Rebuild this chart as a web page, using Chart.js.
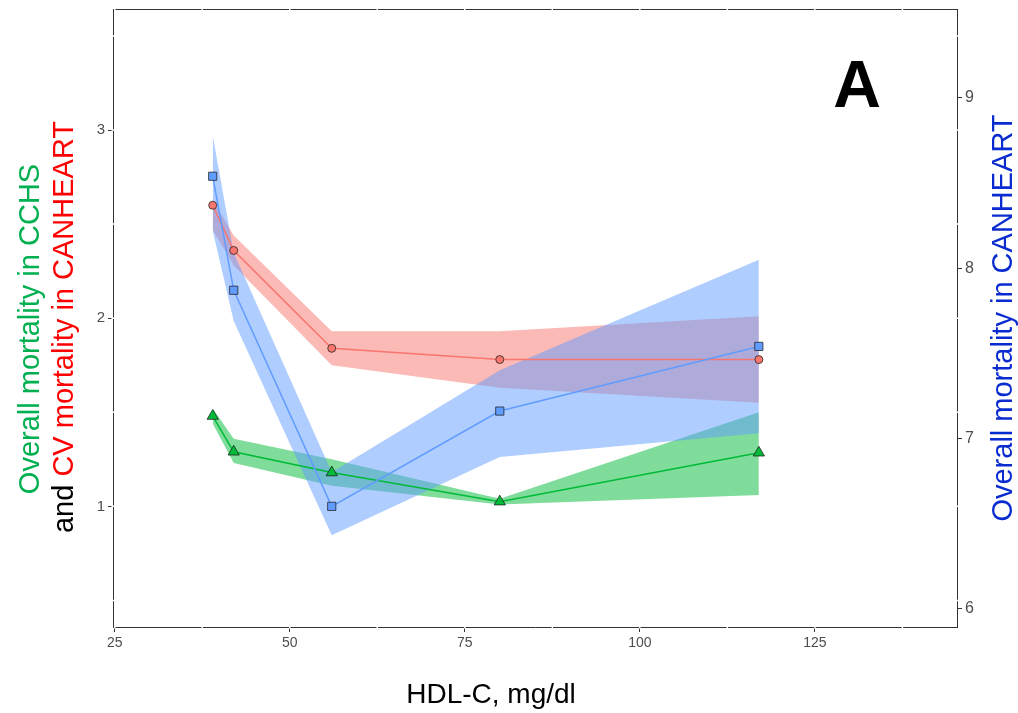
<!DOCTYPE html>
<html>
<head>
<meta charset="utf-8">
<script src="https://cdn.jsdelivr.net/npm/chart.js@4.4.1/dist/chart.umd.min.js"></script>
<style>
  html, body { margin: 0; padding: 0; background: #fff; }
  .for_chart { width: 1018px; height: 713px; position: relative; }
</style>
</head>
<body>
<div class="for_chart"><canvas id="chart"></canvas></div>
<script>
// HDL-C categories (x)
const hdl = [39, 42, 56, 80, 117];

// CV mortality in CANHEART (left axis, red)
const cvMortality = [2.60, 2.36, 1.84, 1.78, 1.78];
const cvLower = [2.47, 2.28, 1.75, 1.63, 1.55];
const cvUpper = [2.63, 2.44, 1.93, 1.93, 2.01];

// Overall mortality in CCHS (left axis, green)
const cchsMortality = [1.48, 1.29, 1.18, 1.025, 1.285];
const cchsLower = [1.44, 1.23, 1.11, 1.01, 1.06];
const cchsUpper = [1.52, 1.36, 1.25, 1.04, 1.50];

// Overall mortality in CANHEART (right axis, blue)
const canMortality = [8.54, 7.87, 6.60, 7.16, 7.54];
const canLower = [8.22, 7.69, 6.43, 6.89, 7.03];
const canUpper = [8.78, 8.09, 6.80, 7.40, 8.05];

// tick labels
const xTicks = [25, 50, 75, 100, 125];
const yTicks = [1, 2, 3];
const y2Ticks = [6, 7, 8, 9];

const FONT = "'Liberation Sans', Arial, sans-serif";
const RED = "#F8766D", BLUE = "#619CFF", GREEN = "#00BA38";

const pts = (vals) => hdl.map((x, i) => ({ x: x, y: vals[i] }));

const band = (vals, axis, fill, color, order) => ({
  data: pts(vals),
  yAxisID: axis,
  borderWidth: 0,
  pointRadius: 0,
  fill: fill,
  backgroundColor: color,
  order: order,
});

const series = (vals, axis, color, style, radius) => ({
  data: pts(vals),
  yAxisID: axis,
  borderColor: color,
  borderWidth: 1.5,
  fill: false,
  pointStyle: style,
  pointRadius: radius,
  pointBackgroundColor: color,
  pointBorderColor: "rgba(30,30,30,0.75)",
  pointBorderWidth: 1,
  order: 0,
});

// panel decorations and axis titles
const decorations = {
  id: "decorations",
  afterDraw(chart) {
    const { ctx, chartArea: a, scales } = chart;
    ctx.save();
    // top border
    ctx.strokeStyle = "#333";
    ctx.lineWidth = 1;
    ctx.beginPath();
    ctx.moveTo(a.left, a.top + 0.5);
    ctx.lineTo(a.right, a.top + 0.5);
    ctx.stroke();

    // white grid lines crossing the panel border
    ctx.strokeStyle = "#fff";
    ctx.lineWidth = 1.5;
    for (let v = 25; v < scales.x.max; v += 12.5) {
      const px = scales.x.getPixelForValue(v);
      ctx.beginPath();
      ctx.moveTo(px, a.top - 1.5); ctx.lineTo(px, a.top + 2);
      ctx.moveTo(px, a.bottom - 2); ctx.lineTo(px, a.bottom + 1.5);
      ctx.stroke();
    }
    for (let v = 0.5; v < scales.y.max; v += 0.5) {
      const py = scales.y.getPixelForValue(v);
      ctx.beginPath();
      ctx.moveTo(a.left - 1.5, py); ctx.lineTo(a.left + 2, py);
      ctx.moveTo(a.right - 2, py); ctx.lineTo(a.right + 1.5, py);
      ctx.stroke();
    }

    // panel letter
    ctx.fillStyle = "#000";
    ctx.font = "bold 66px " + FONT;
    ctx.textAlign = "center";
    ctx.textBaseline = "alphabetic";
    ctx.fillText("A", 857, 107);

    // x title
    ctx.font = "28px " + FONT;
    ctx.fillText("HDL-C, mg/dl", 491, 703);

    // left title, two lines
    ctx.font = "29px " + FONT;
    ctx.save();
    ctx.translate(39, 329);
    ctx.rotate(-Math.PI / 2);
    ctx.fillStyle = "#00B050";
    ctx.fillText("Overall mortality in CCHS", 0, 0);
    ctx.restore();

    ctx.save();
    ctx.translate(73, 327);
    ctx.rotate(-Math.PI / 2);
    const p1 = "and ", p2 = "CV mortality in CANHEART";
    const w1 = ctx.measureText(p1).width, w2 = ctx.measureText(p2).width;
    ctx.textAlign = "left";
    ctx.fillStyle = "#000";
    ctx.fillText(p1, -(w1 + w2) / 2, 0);
    ctx.fillStyle = "#FF0000";
    ctx.fillText(p2, -(w1 + w2) / 2 + w1, 0);
    ctx.restore();

    // right title
    ctx.save();
    ctx.translate(1012, 318);
    ctx.rotate(-Math.PI / 2);
    ctx.textAlign = "center";
    ctx.fillStyle = "#0A2BCF";
    ctx.fillText("Overall mortality in CANHEART", 0, 0);
    ctx.restore();

    ctx.restore();
  },
};

const tickStyle = (size) => ({
  color: "#4D4D4D",
  font: { family: FONT, size: size },
  padding: 3,
  autoSkip: false,
  maxRotation: 0,
});

new Chart(document.getElementById("chart"), {
  type: "line",
  data: {
    datasets: [
      band(cvUpper, "y", "+1", "rgba(248,118,109,0.5)", 2),
      band(cvLower, "y", false, "transparent", 2),
      band(canUpper, "y1", "+1", "rgba(97,156,255,0.5)", 1),
      band(canLower, "y1", false, "transparent", 1),
      band(cchsUpper, "y", "+1", "rgba(0,186,56,0.5)", 3),
      band(cchsLower, "y", false, "transparent", 3),
      series(canMortality, "y1", BLUE, "rect", 5.8),
      series(cvMortality, "y", RED, "circle", 4),
      series(cchsMortality, "y", GREEN, "triangle", 6.5),
    ],
  },
  options: {
    responsive: true,
    maintainAspectRatio: false,
    animation: false,
    layout: { padding: { top: 9, left: 0, right: 0, bottom: 0 } },
    plugins: {
      legend: { display: false },
      tooltip: { enabled: false },
      filler: { propagate: false },
    },
    scales: {
      x: {
        type: "linear",
        min: 24.76,
        max: 145.3,
        afterBuildTicks: (s) => { s.ticks = xTicks.map((v) => ({ value: v })); },
        afterFit: (s) => { s.height = 86; s.paddingLeft = 0; s.paddingRight = 0; },
        grid: { drawOnChartArea: false, tickLength: 5, tickColor: "#333" },
        border: { color: "#333", width: 1 },
        ticks: tickStyle(14),
      },
      y: {
        type: "linear",
        position: "left",
        min: 0.359,
        max: 3.643,
        afterBuildTicks: (s) => { s.ticks = yTicks.map((v) => ({ value: v })); },
        afterFit: (s) => { s.width = 113; s.paddingTop = 0; s.paddingBottom = 0; },
        grid: { drawOnChartArea: false, tickLength: 5, tickColor: "#333" },
        border: { color: "#333", width: 1 },
        ticks: tickStyle(15),
      },
      y1: {
        type: "linear",
        position: "right",
        min: 5.891,
        max: 9.523,
        afterBuildTicks: (s) => { s.ticks = y2Ticks.map((v) => ({ value: v })); },
        afterFit: (s) => { s.width = 61; s.paddingTop = 0; s.paddingBottom = 0; },
        grid: { drawOnChartArea: false, tickLength: 5, tickColor: "#333" },
        border: { color: "#333", width: 1 },
        ticks: tickStyle(16),
      },
    },
  },
  plugins: [decorations],
});
</script>
</body>
</html>
